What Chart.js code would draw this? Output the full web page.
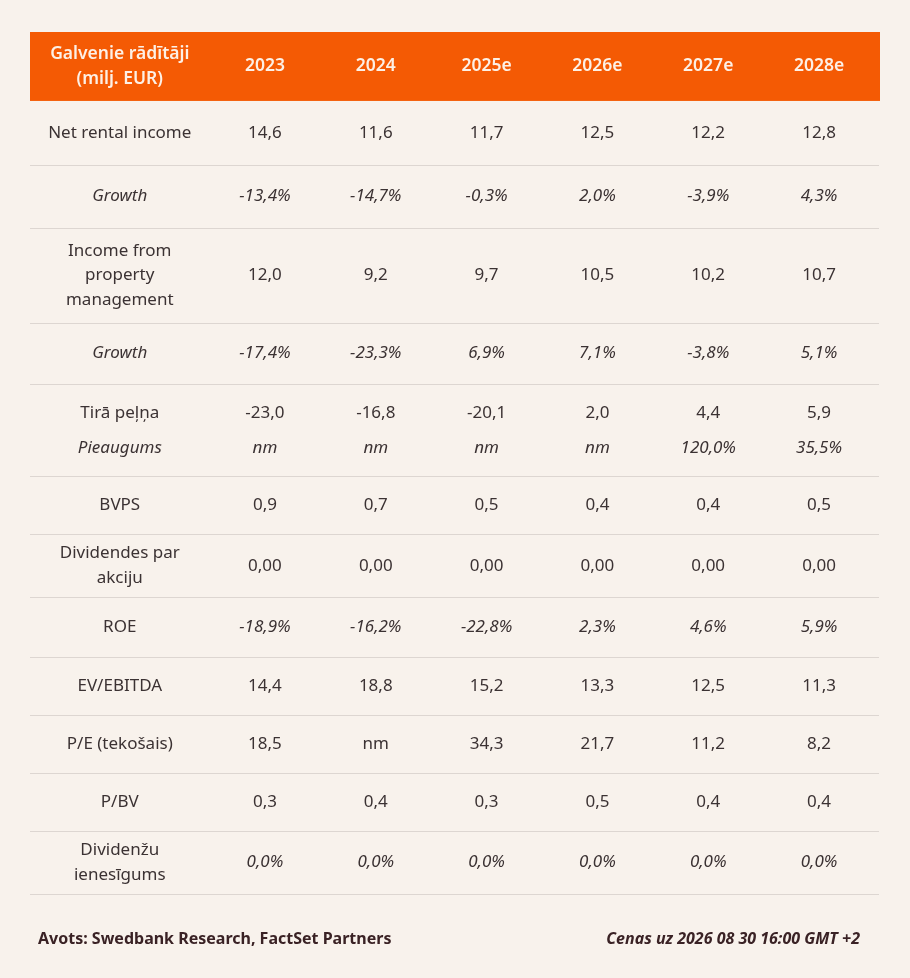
<!DOCTYPE html>
<html>
<head>
<meta charset="utf-8">
<script src="https://cdn.jsdelivr.net/npm/chart.js@4/dist/chart.umd.min.js"></script>
<style>
  html, body { margin: 0; padding: 0; background: #f8f2ec; }
  #wrap { width: 910px; height: 978px; position: relative; }
</style>
</head>
<body>
<div id="wrap"><canvas id="tbl"></canvas></div>
<script>
// table data
const headerLabel = 'Galvenie rādītāji\n(milj. EUR)';
const years = ['2023', '2024', '2025e', '2026e', '2027e', '2028e'];

const netRentalIncome = [14.6, 11.6, 11.7, 12.5, 12.2, 12.8];
const netRentalGrowth = [-13.4, -14.7, -0.3, 2.0, -3.9, 4.3];
const propMgmtIncome = [12.0, 9.2, 9.7, 10.5, 10.2, 10.7];
const propMgmtGrowth = [-17.4, -23.3, 6.9, 7.1, -3.8, 5.1];
const netProfit = [-23.0, -16.8, -20.1, 2.0, 4.4, 5.9];
const netProfitGrowth = [null, null, null, null, 120.0, 35.5];
const bvps = [0.9, 0.7, 0.5, 0.4, 0.4, 0.5];
const dps = [0, 0, 0, 0, 0, 0];
const roe = [-18.9, -16.2, -22.8, 2.3, 4.6, 5.9];
const evEbitda = [14.4, 18.8, 15.2, 13.3, 12.5, 11.3];
const peRatio = [18.5, null, 34.3, 21.7, 11.2, 8.2];
const pbv = [0.3, 0.4, 0.3, 0.5, 0.4, 0.4];
const divYield = [0, 0, 0, 0, 0, 0];

const sourceNote = 'Avots: Swedbank Research, FactSet Partners';
const priceNote = 'Cenas uz 2026 08 30 16:00 GMT +2';

// rows: label, values, format, which parts are italic
const rows = [
  { label: 'Net rental income', values: netRentalIncome, fmt: 'n1' },
  { label: 'Growth', values: netRentalGrowth, fmt: 'pct', labelItalic: true, valItalic: true },
  { label: 'Income from\nproperty\nmanagement', values: propMgmtIncome, fmt: 'n1' },
  { label: 'Growth', values: propMgmtGrowth, fmt: 'pct', labelItalic: true, valItalic: true },
  { label: 'Tirā peļņa', values: netProfit, fmt: 'n1' },
  { label: 'Pieaugums', values: netProfitGrowth, fmt: 'pct', labelItalic: true, valItalic: true },
  { label: 'BVPS', values: bvps, fmt: 'n1' },
  { label: 'Dividendes par\nakciju', values: dps, fmt: 'n2' },
  { label: 'ROE', values: roe, fmt: 'pct', valItalic: true },
  { label: 'EV/EBITDA', values: evEbitda, fmt: 'n1' },
  { label: 'P/E (tekošais)', values: peRatio, fmt: 'n1' },
  { label: 'P/BV', values: pbv, fmt: 'n1' },
  { label: 'Dividenžu\nienesīgums', values: divYield, fmt: 'pct', valItalic: true }
];

// layout: which rows share a bordered block, and block heights (row units)
const blocks = [[0], [1], [2], [3], [4, 5], [6], [7], [8], [9], [10], [11], [12]];
const headerH = 1.15;
const blockH = [1.07, 1.05, 1.58, 1.03, 1.53, 0.97, 1.05, 1.0, 0.97, 0.96, 0.97, 1.05];
const subRowGap = 0.58;
const labelColW = 1.62;
const colPadRight = 0.05;
const LINE_H = 24.5;
const FONT = '"Noto Sans", "DejaVu Sans", sans-serif';
const TEXT_COLOR = '#3b3233';

function fmtValue(v, fmt) {
  if (v === null) return 'nm';
  if (fmt === 'pct') return v.toFixed(1).replace('.', ',') + '%';
  if (fmt === 'n2') return v.toFixed(2).replace('.', ',');
  return v.toFixed(1).replace('.', ',');
}

// block edges along the y scale
const edges = [0, headerH];
blockH.forEach(h => edges.push(edges[edges.length - 1] + h));
const totalH = edges[edges.length - 1];

// row centre for each row
const rowY = [];
blocks.forEach((b, bi) => {
  const mid = (edges[bi + 1] + edges[bi + 2]) / 2;
  b.forEach((r, k) => { rowY[r] = mid + (k - (b.length - 1) / 2) * subRowGap; });
});

function cellPoints(yv) {
  return [{ x: -labelColW / 2, y: yv }].concat(years.map((_, i) => ({ x: i + 0.5, y: yv })));
}

const datasets = [{
  data: cellPoints(headerH / 2),
  cellText: [headerLabel].concat(years),
  header: true
}].concat(rows.map((r, i) => ({
  data: cellPoints(rowY[i]),
  cellText: [r.label].concat(r.values.map(v => fmtValue(v, r.fmt))),
  labelItalic: !!r.labelItalic,
  valItalic: !!r.valItalic
})));

const tablePlugin = {
  id: 'tableCells',
  beforeDatasetsDraw(chart) {
    const { ctx, chartArea, scales: { x, y } } = chart;
    ctx.save();
    // header band
    const top = y.getPixelForValue(0);
    const bot = y.getPixelForValue(headerH);
    ctx.fillStyle = '#f45a04';
    ctx.fillRect(chartArea.left, top, chartArea.right - chartArea.left, bot - top);
    // row separators
    ctx.strokeStyle = '#ddd6d1';
    ctx.lineWidth = 1.2;
    edges.slice(2).forEach(v => {
      const py = Math.round(y.getPixelForValue(v)) + 0.5;
      ctx.beginPath();
      ctx.moveTo(chartArea.left, py);
      ctx.lineTo(chartArea.right - 1, py);
      ctx.stroke();
    });
    ctx.restore();
  },
  afterDatasetsDraw(chart) {
    const { ctx, chartArea } = chart;
    ctx.save();
    ctx.textAlign = 'center';
    ctx.textBaseline = 'middle';
    chart.data.datasets.forEach((ds, di) => {
      const meta = chart.getDatasetMeta(di);
      meta.data.forEach((pt, i) => {
        const text = ds.cellText[i];
        const italic = i === 0 ? ds.labelItalic : ds.valItalic;
        if (ds.header) {
          ctx.fillStyle = '#fdf0e6';
          ctx.font = '600 17.5px ' + FONT;
        } else {
          ctx.fillStyle = TEXT_COLOR;
          ctx.font = (italic ? 'italic ' : '') + '400 17px ' + FONT;
        }
        const lines = text.split('\n');
        lines.forEach((l, k) => {
          ctx.fillText(l, pt.x, pt.y + (k - (lines.length - 1) / 2) * LINE_H);
        });
      });
    });
    // footer notes
    const fy = chartArea.bottom + 45;
    ctx.fillStyle = '#3a2225';
    ctx.textAlign = 'left';
    ctx.font = '700 16px ' + FONT;
    ctx.fillText(sourceNote, chartArea.left + 8, fy);
    ctx.textAlign = 'right';
    ctx.font = 'italic 700 16px ' + FONT;
    ctx.fillText(priceNote, chartArea.right - 20, fy);
    ctx.restore();
  }
};

new Chart(document.getElementById('tbl'), {
  type: 'scatter',
  data: { datasets },
  options: {
    responsive: true,
    maintainAspectRatio: false,
    animation: false,
    events: [],
    layout: { padding: { left: 30, top: 32, right: 30, bottom: 84 } },
    elements: { point: { radius: 0, hoverRadius: 0 } },
    plugins: { legend: { display: false }, tooltip: { enabled: false } },
    scales: {
      x: { type: 'linear', display: false, min: -labelColW, max: years.length + colPadRight },
      y: { type: 'linear', display: false, reverse: true, min: 0, max: totalH }
    }
  },
  plugins: [tablePlugin]
});
</script>
</body>
</html>
